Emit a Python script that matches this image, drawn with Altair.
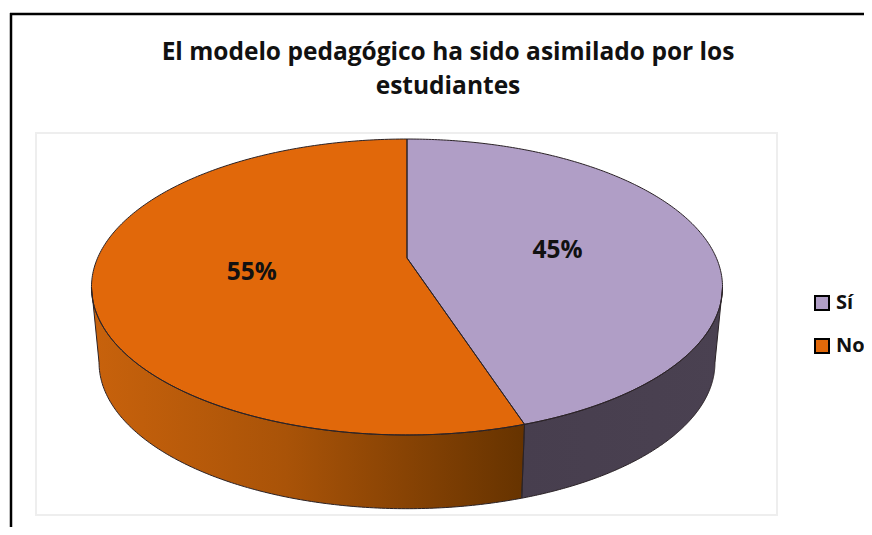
import numpy as np
import pandas as pd
import altair as alt

categories = ["Sí", "No"]
values = [45, 55]
labels = ["45%", "55%"]
title_lines = ["El modelo pedagógico ha sido asimilado por los", "estudiantes"]
colors = ["#B09EC6", "#E1680A"]

W, H = 856, 519
CX, CY = 407 - 8, 258 - 8      # where the pie's centre falls in the canvas
SX, SY = 309.4, 142.3          # scale of one pie radius
K = 0.196                      # perspective strength
BOTTOM_SCALE_X, BOTTOM_SCALE_Y, BOTTOM_SHIFT = 0.976, 0.987, -76 / SY
SIDE_LEFT, SIDE_RIGHT = 258.7, 101.3  # clockwise angles of the silhouette


def top(theta):
    t = np.radians(theta)
    w = 1 + K * np.cos(t)
    return np.sin(t) / w, np.cos(t) / w


def bottom(theta):
    x, y = top(theta)
    return x * BOTTOM_SCALE_X, y * BOTTOM_SCALE_Y + BOTTOM_SHIFT


def scan(px, py, key):
    """Turn a closed polygon into x / y / y2 columns for an area mark."""
    ax, ay = np.asarray(px), np.asarray(py)
    bx, by = np.roll(ax, -1), np.roll(ay, -1)
    eps = 1e-5
    breaks = [ax.min() + eps, ax.max() - eps, -eps, eps]
    grid = np.unique(np.r_[np.linspace(ax.min() + eps, ax.max() - eps, 500), breaks])
    grid = grid[(grid >= ax.min()) & (grid <= ax.max())]
    rows = []
    for x in grid:
        hit = (ax <= x) != (bx <= x)
        if not hit.any():
            continue
        ys = ay[hit] + (x - ax[hit]) / (bx[hit] - ax[hit]) * (by[hit] - ay[hit])
        rows.append({"x": x, "y": ys.max(), "y2": ys.min(), "cat": key})
    return rows


edges = np.cumsum([0] + values) / sum(values) * 360
top_rows, outline_rows, label_rows = [], [], []
side_rows = {}

for name, a0, a1, lab in zip(categories, edges[:-1], edges[1:], labels):
    th = np.linspace(a0, a1, 240)
    ax, ay = top(th)
    px = np.r_[0.0, ax]
    py = np.r_[0.0, ay]
    top_rows += scan(px, py, name)
    cx, cy = np.r_[px, 0.0], np.r_[py, 0.0]
    outline_rows += [{"x": a, "y": b, "i": i, "p": name + " top"}
                     for i, (a, b) in enumerate(zip(cx, cy))]

    # outer wall of the slice: only the part of the rim that faces the viewer
    lo, hi = max(a0, SIDE_RIGHT), min(a1, SIDE_LEFT)
    th = np.linspace(lo, hi, 160)
    ux, uy = top(th)
    dx, dy = bottom(th[::-1])
    wx, wy = np.r_[ux, dx], np.r_[uy, dy]
    side_rows[name] = pd.DataFrame(scan(wx, wy, name))
    cx, cy = np.r_[wx, wx[0]], np.r_[wy, wy[0]]
    outline_rows += [{"x": a, "y": b, "i": i, "p": name + " wall"}
                     for i, (a, b) in enumerate(zip(cx, cy))]

    mid = np.radians((a0 + a1) / 2)
    w = 1 + K * 0.5 * np.cos(mid)
    label_rows.append({"x": 0.5 * np.sin(mid) / w, "y": 0.5 * np.cos(mid) / w, "t": lab})

x_scale = alt.Scale(domain=[-CX / SX, (W - CX) / SX], range=[0, W], nice=False, zero=False)
y_scale = alt.Scale(domain=[(CY - H) / SY, CY / SY], range=[H, 0], nice=False, zero=False)
X = alt.X("x:Q", scale=x_scale, axis=None)
Y = alt.Y("y:Q", scale=y_scale, axis=None)


def side(name, stops):
    grad = alt.LinearGradient(
        gradient="linear", x1=0, x2=1, y1=0, y2=0,
        stops=[alt.GradientStop(color=c, offset=o) for o, c in stops],
    )
    return alt.Chart(side_rows[name]).mark_area(color=grad, interpolate="linear").encode(
        x=X, y=Y, y2="y2:Q")


wall_no = side("No", [(0, "#C8620C"), (0.45, "#A95308"), (1, "#663300")])
wall_si = side("Sí", [(0, "#473E4E"), (1, "#4A4151")])

tops = alt.Chart(pd.DataFrame(top_rows)).mark_area(interpolate="linear").encode(
    x=X, y=Y, y2="y2:Q",
    color=alt.Color(
        "cat:N",
        scale=alt.Scale(domain=categories, range=colors),
        legend=alt.Legend(
            title=None, orient="none", legendX=804, legendY=285,
            symbolType="square", symbolSize=196,
            symbolStrokeColor="#000000", symbolStrokeWidth=2,
            labelFont="Open Sans", labelFontWeight="bold", labelFontSize=20,
            labelColor="#111111", labelOffset=4, rowPadding=21,
        ),
    ),
)

outlines = alt.Chart(pd.DataFrame(outline_rows)).mark_line(
    color="#2a2226", strokeWidth=1, interpolate="linear"
).encode(x=X, y=Y, detail="p:N", order="i:Q")

texts = alt.Chart(pd.DataFrame(label_rows)).mark_text(
    font="Open Sans", fontWeight="bold", fontSize=24.5, color="#111111", baseline="middle", dy=4
).encode(x=X, y=Y, text="t:N")

plot_box = alt.Chart(pd.DataFrame({"a": [0]})).mark_rect(
    fill="#ffffff", stroke="#eeeeee", strokeWidth=2
).encode(x=alt.value(28), x2=alt.value(769), y=alt.value(125), y2=alt.value(507))

frame_left = alt.Chart(pd.DataFrame({"a": [0]})).mark_rule(color="#000000", strokeWidth=2.5).encode(
    x=alt.value(3), y=alt.value(5), y2=alt.value(H))
frame_top = alt.Chart(pd.DataFrame({"a": [0]})).mark_rule(color="#000000", strokeWidth=2.5).encode(
    y=alt.value(6), x=alt.value(2), x2=alt.value(W))

chart = alt.layer(
    plot_box, frame_left, frame_top, wall_no, wall_si, tops, outlines, texts
).resolve_scale(x="shared", y="shared").properties(
    width=W, height=H,
    autosize=alt.AutoSizeParams(type="none"),
    padding=0,
    background="#ffffff",
    title=alt.TitleParams(
        text=title_lines, anchor="middle", font="Open Sans", fontWeight="bold",
        fontSize=24.5, color="#111111", lineHeight=34, dx=12, dy=91, offset=0,
    ),
).configure_view(stroke=None)

chart.save("out.html", embed_options={"renderer": "svg", "actions": False})
